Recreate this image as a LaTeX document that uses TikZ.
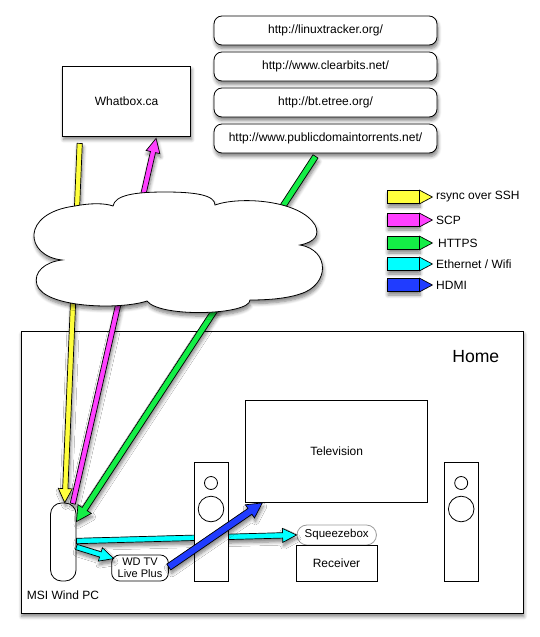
\documentclass[tikz,border=0pt]{standalone}
\usepackage{fontspec}
\setmainfont{Liberation Sans}
\usetikzlibrary{calc,shadows,shadows.blur}
\definecolor{cyel}{RGB}{255,255,60}
\definecolor{cmag}{RGB}{255,64,255}
\definecolor{cgrn}{RGB}{20,238,70}
\definecolor{ccyn}{RGB}{0,255,255}
\definecolor{cblu}{RGB}{32,60,255}
\tikzset{
  shad/.style={blur shadow={shadow blur steps=6, shadow xshift=1pt, shadow yshift=-3.5pt, shadow blur radius=3.5pt, shadow opacity=50}},
  boxstyle/.style={draw, fill=white, line width=0.8pt, inner sep=0pt, shad},
  urlbox/.style={boxstyle, rounded corners=8pt, minimum width=223pt, minimum height=29pt, font=\fontsize{12}{14}\selectfont},
  plainbox/.style={draw, fill=white, line width=0.8pt, inner sep=0pt},
  txt/.style={inner sep=0pt, font=\fontsize{12}{14}\selectfont},
  legrect/.style={draw, line width=0.8pt, minimum width=32pt, minimum height=13pt, inner sep=0pt, shad},
  arrowline/.style={draw=black, line width=0.7pt, line join=miter, shad},
  cloudline/.style={draw=black, fill=white, line width=0.8pt, shad},
}
\newcommand{\fatarrow}[6]{%
  \coordinate (fa-s) at (#2);
  \coordinate (fa-e) at (#3);
  \coordinate (fa-c) at ($(fa-e)!#6!(fa-s)$);
  \filldraw[arrowline, fill=#1]
    ($(fa-s)!#4!90:(fa-e)$) -- ($(fa-c)!#4!90:(fa-e)$) -- ($(fa-c)!#5!90:(fa-e)$)
    -- (fa-e) -- ($(fa-c)!#5!-90:(fa-e)$) -- ($(fa-c)!#4!-90:(fa-e)$)
    -- ($(fa-s)!#4!-90:(fa-e)$) -- cycle;
}
\begin{document}
\begin{tikzpicture}[x=1pt, y=-1pt]
\useasboundingbox (0,0) rectangle (540,637);
% home
\node[boxstyle, minimum width=502pt, minimum height=282pt] (home) at (271.9,472) {};
\node[inner sep=0pt, font=\fontsize{17.6}{20}\selectfont] (homelabel) at (475.8,357) {Home};
% url boxes
\node[urlbox] (u1) at (325.5,30.5) {http://linuxtracker.org/};
\node[urlbox] (u2) at (325.5,66.5) {http://www.clearbits.net/};
\node[urlbox] (u3) at (325.5,102.5) {http://bt.etree.org/};
\node[urlbox] (u4) at (325.5,138.5) {http://www.publicdomaintorrents.net/};
% whatbox
\node[boxstyle, minimum width=128pt, minimum height=70pt, font=\fontsize{12}{14}\selectfont] (whatbox) at (126.6,101) {Whatbox.ca};
% home devices
\node[plainbox, minimum width=182pt, minimum height=102pt, font=\fontsize{12}{14}\selectfont] (tv) at (336.7,451) {Television};
\node[plainbox, rounded corners=11pt, minimum width=25.5pt, minimum height=78pt] (pc) at (63.3,542) {};
\node[txt] (pclabel) at (63,595) {MSI Wind PC};
\node[plainbox, rounded corners=8pt, minimum width=56.7pt, minimum height=26pt, align=center, font=\fontsize{11}{12.5}\selectfont] (wdtv) at (140,568) {WD TV\\Live Plus};
\node[plainbox, draw=black!40, rounded corners=10pt, minimum width=79.5pt, minimum height=20pt, font=\fontsize{11.5}{13}\selectfont] (squeeze) at (336.7,535) {Squeezebox};
\node[plainbox, minimum width=81pt, minimum height=36pt, font=\fontsize{12}{14}\selectfont] (receiver) at (336.5,563) {Receiver};
% internet arrows
\fatarrow{cyel}{$(whatbox.south west)+(17.5,7)$}{$(pc.north)+(1.4,0)$}{2.6pt}{7pt}{14pt}
\fatarrow{cmag}{$(pc.north)+(9.5,1)$}{$(whatbox.south)+(29.5,2)$}{2.6pt}{7pt}{14pt}
\fatarrow{cgrn}{$(u4.south)+(-10,3)$}{$(pc.north east)+(0,19)$}{3pt}{8pt}{15pt}
% cloud
\filldraw[cloudline] (62,260)
  .. controls (25,256) and (20,213) .. (75,206)
  .. controls (90,203) and (105,203) .. (113,206)
  .. controls (115,195) and (135,192) .. (165,192)
  .. controls (195,192) and (215,195) .. (215,205)
  .. controls (240,196) and (300,200) .. (315,225)
  .. controls (320,235) and (315,242) .. (300,245)
  .. controls (330,250) and (330,285) .. (300,294)
  .. controls (285,299) and (265,300) .. (250,300)
  .. controls (250,315) and (160,318) .. (147,301)
  .. controls (120,310) and (45,308) .. (37,285)
  .. controls (33,272) and (45,262) .. (62,260) -- cycle;
% ethernet to squeezebox (behind speaker)
\fatarrow{ccyn}{$(pc.east)+(0,-1)$}{squeeze.west}{2.7pt}{7pt}{14pt}
% speakers
\node[plainbox, minimum width=34pt, minimum height=119pt] (spkl) at (211,521.5) {};
\node[plainbox, circle, minimum size=13pt] (spklt) at (211,483) {};
\node[plainbox, circle, minimum size=25.6pt] (spklw) at (211,509) {};
\node[plainbox, minimum width=34pt, minimum height=119pt] (spkr) at (461.2,521.5) {};
\node[plainbox, circle, minimum size=13pt] (spkrt) at (461.2,483) {};
\node[plainbox, circle, minimum size=25.6pt] (spkrw) at (461.2,509) {};
% pc to wdtv, wdtv to tv
\fatarrow{ccyn}{$(pc.east)+(0,5)$}{$(wdtv.north west)+(2.5,4)$}{2.7pt}{7pt}{14pt}
\fatarrow{cblu}{$(wdtv.east)+(0,-1)$}{$(tv.south west)+(17,0.5)$}{3.5pt}{8pt}{15pt}
% legend
\foreach \c/\y/\t/\n in {cyel/197/{rsync over SSH}/1, cmag/220/{SCP}/2, cgrn/243/{\,HTTPS}/3, ccyn/264/{Ethernet / Wifi}/4, cblu/285/{HDMI}/5}{
  \node[legrect, fill=\c] (lg\n) at (403,\y) {};
  \filldraw[fill=\c, draw=black, line width=0.7pt, line join=miter] (lg\n.north east) -- ($(lg\n.east)+(13,0)$) -- (lg\n.south east) -- cycle;
  \node[txt, anchor=west] (lt\n) at (436,\y) {\t};
}
\end{tikzpicture}
\end{document}
